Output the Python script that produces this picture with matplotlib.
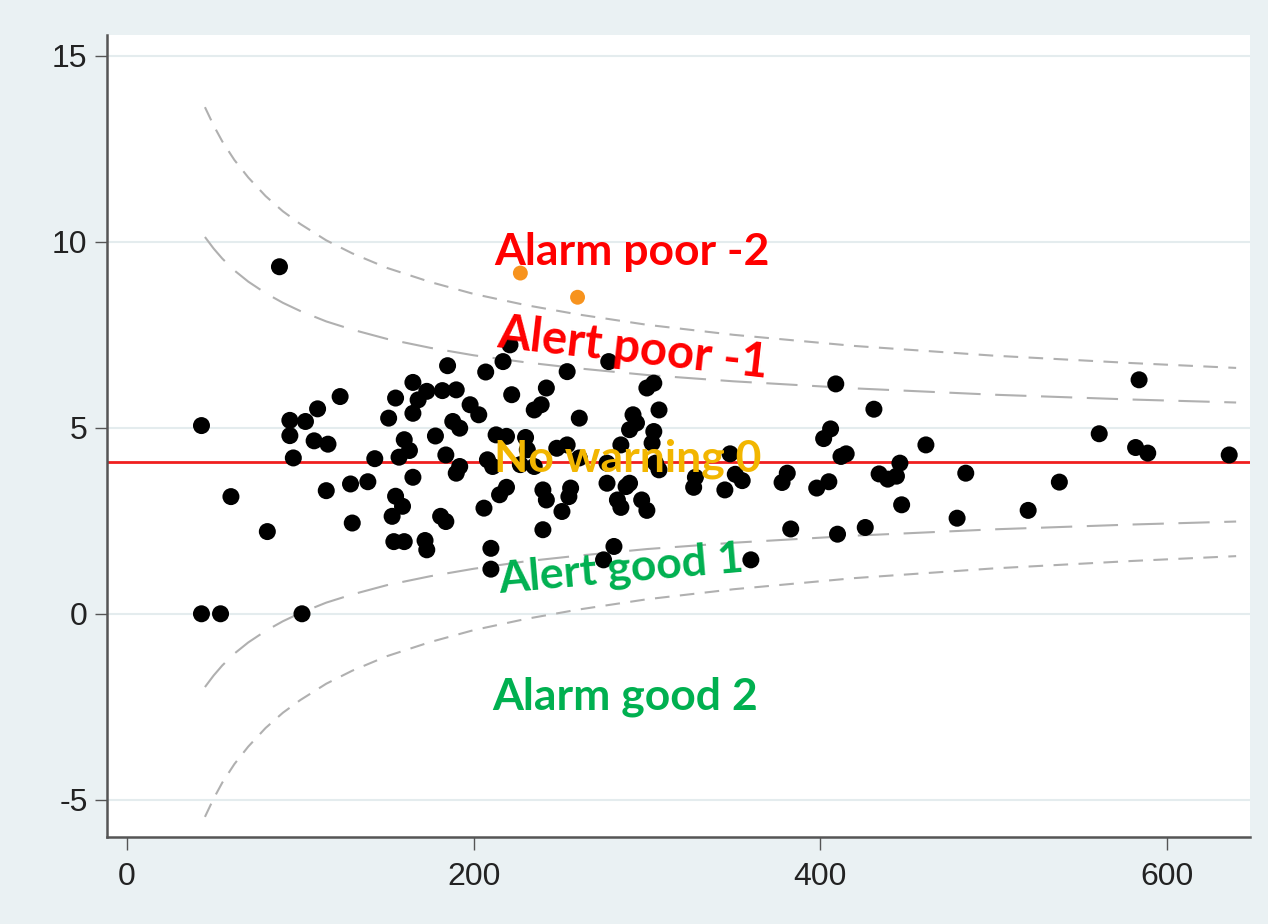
import numpy as np
import matplotlib; matplotlib.use('Agg')
import matplotlib.pyplot as plt

plt.rcParams['axes.unicode_minus'] = False

# observed units: volume (x) and rate (y)
volume = [43, 43, 54, 60, 81, 88, 101, 94, 94, 103, 110, 123, 108, 116, 96, 115, 129, 139, 130, 143,
          155, 151, 165, 165, 160, 163, 157, 165, 155, 159, 153, 154, 160, 172, 173, 173, 182, 168,
          178, 184, 181, 184, 185, 190, 188, 192, 192, 190,
          198, 203, 207, 217, 221, 222, 213, 219, 208, 211, 227, 215, 219, 206, 210, 210,
          230, 231, 235, 235, 239, 242, 254, 248, 254, 261, 261, 256, 255, 240, 242, 251, 240,
          278, 300, 304, 292, 294, 290, 307, 285, 304, 303, 277, 305, 277, 290, 288, 283, 285, 297,
          300, 281, 275, 307,
          328, 327, 345, 348, 351, 355, 360, 381, 378, 383,
          409, 431, 406, 402, 415, 412, 405, 398, 410, 426, 446, 434, 439, 444, 447, 461, 484, 479,
          520, 538, 561, 584, 582, 589, 636]
rate = [5.06, 0.0, 0.0, 3.15, 2.21, 9.33, 0.0, 5.20, 4.79, 5.17, 5.51, 5.84, 4.65, 4.56, 4.19, 3.31,
        3.49, 3.55, 2.44, 4.17,
        5.80, 5.26, 6.22, 5.39, 4.68, 4.39, 4.21, 3.67, 3.16, 2.89, 2.62, 1.94, 1.94, 1.97, 1.72, 5.98,
        6.00, 5.75, 4.78, 4.27, 2.62, 2.48, 6.67, 6.02, 5.17, 4.99, 3.96, 3.78,
        5.62, 5.35, 6.50, 6.78, 7.23, 5.89, 4.81, 4.77, 4.14, 3.96, 4.01, 3.20, 3.40, 2.84, 1.76, 1.20,
        4.74, 4.41, 3.96, 5.48, 5.62, 6.07, 6.51, 4.45, 4.54, 5.26, 4.19, 3.38, 3.15, 3.33, 3.06, 2.75, 2.26,
        6.78, 6.07, 6.20, 5.35, 5.13, 4.95, 5.48, 4.54, 4.90, 4.59, 4.05, 4.05, 3.51, 3.51, 3.42, 3.06,
        2.86, 3.06, 2.78, 1.81, 1.45, 3.87,
        3.67, 3.40, 3.33, 4.30, 3.75, 3.58, 1.45, 3.78, 3.53, 2.28,
        6.18, 5.50, 4.97, 4.71, 4.30, 4.23, 3.55, 3.38, 2.14, 2.32, 4.05, 3.76, 3.62, 3.70, 2.93, 4.54,
        3.78, 2.57,
        2.78, 3.54, 4.84, 6.29, 4.47, 4.32, 4.27]

# the two alarm units (orange)
alarm_volume = [227, 260]
alarm_rate = [9.16, 8.51]

target = 4.08

# funnel limits
funnel_n = [45, 50, 55, 62, 70, 80, 90, 100, 115, 130, 150, 175, 200, 230, 260, 300, 350, 420, 500, 580, 640]
upper99 = [13.62, 13.13, 12.70, 12.20, 11.73, 11.23, 10.82, 10.48, 10.04, 9.69, 9.30, 8.92, 8.60, 8.30,
           8.05, 7.77, 7.50, 7.20, 6.94, 6.74, 6.61]
upper95 = [10.13, 9.82, 9.55, 9.23, 8.93, 8.62, 8.36, 8.14, 7.86, 7.64, 7.39, 7.15, 6.95, 6.76, 6.60,
           6.42, 6.25, 6.06, 5.89, 5.76, 5.68]
lower95 = [-1.97, -1.66, -1.39, -1.07, -0.77, -0.46, -0.20, 0.02, 0.30, 0.52, 0.77, 1.01, 1.21, 1.41,
           1.56, 1.74, 1.91, 2.10, 2.27, 2.40, 2.48]
lower99 = [-5.46, -4.97, -4.54, -4.04, -3.57, -3.07, -2.66, -2.32, -1.88, -1.53, -1.14, -0.76, -0.44,
           -0.14, 0.11, 0.39, 0.66, 0.96, 1.22, 1.42, 1.55]

xticks = [0, 200, 400, 600]
yticks = [-5, 0, 5, 10, 15]

RED = '#ff0000'
GREEN = '#00b050'
GOLD = '#f2b600'

fig = plt.figure(figsize=(12.68, 9.24), dpi=100)
fig.patch.set_facecolor('#eaf1f3')
ax = fig.add_axes([0.0844, 0.0942, 0.9014, 0.8679])
ax.set_facecolor('white')

for y in yticks:
    ax.axhline(y, color='#e4ecee', lw=1.5, zorder=0)

ax.plot(funnel_n, upper99, color='#b0b0b0', lw=1.5, dashes=(7, 5), zorder=1)
ax.plot(funnel_n, lower99, color='#b0b0b0', lw=1.5, dashes=(7, 5), zorder=1)
ax.plot(funnel_n, upper95, color='#b0b0b0', lw=1.5, dashes=(15, 7), zorder=1)
ax.plot(funnel_n, lower95, color='#b0b0b0', lw=1.5, dashes=(15, 7), zorder=1)

ax.axhline(target, color='#f01e1e', lw=2.0, zorder=2)

ax.scatter(volume, rate, s=150, color='black', edgecolors='none', zorder=3)
ax.scatter(alarm_volume, alarm_rate, s=115, color='#f7931e', edgecolors='none', zorder=3)

ax.set_xlim(-11.5, 648)
ax.set_ylim(-6.0, 15.56)
ax.set_xticks(xticks)
ax.set_yticks(yticks)

for s in ['top', 'right']:
    ax.spines[s].set_visible(False)
for s in ['left', 'bottom']:
    ax.spines[s].set_color('#555555')
    ax.spines[s].set_linewidth(1.8)
ax.tick_params(axis='both', length=9, width=1.0, color='#555555', labelcolor='#222222',
               labelsize=23)
ax.tick_params(axis='y', pad=5)
ax.tick_params(axis='x', pad=9)
for lab in ax.get_xticklabels() + ax.get_yticklabels():
    lab.set_family(['Liberation Sans', 'DejaVu Sans'])

txt = dict(family=['Lato', 'DejaVu Sans'], fontweight='bold', zorder=5,
           rotation_mode='anchor', ha='left', va='baseline')
ax.text(212, 9.38, 'Alarm poor -2', color=RED, fontsize=32, **txt)
ax.text(213, 7.18, 'Alert poor -1', color=RED, rotation=-6.5, fontsize=34, **txt)
ax.text(212, 3.82, 'No warning 0', color=GOLD, fontsize=32, **txt)
ax.text(215, 0.56, 'Alert good 1', color=GREEN, rotation=5, fontsize=32, **txt)
ax.text(211, -2.58, 'Alarm good 2', color=GREEN, fontsize=32, **txt)

fig.savefig('out.png', dpi=100, facecolor=fig.get_facecolor())
